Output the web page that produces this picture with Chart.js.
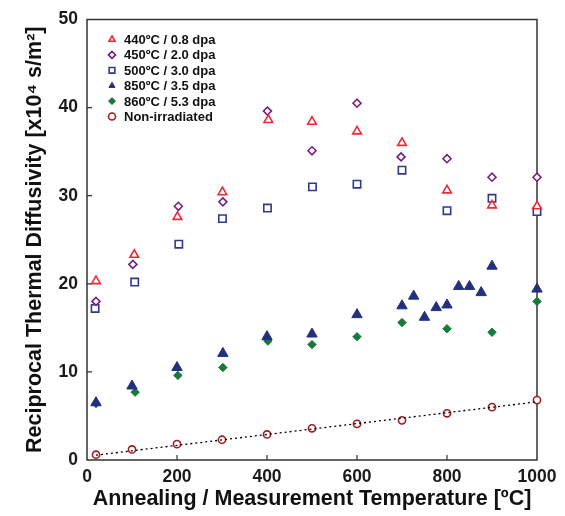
<!DOCTYPE html>
<html>
<head>
<meta charset="utf-8">
<script src="https://cdn.jsdelivr.net/npm/chart.js@4/dist/chart.umd.min.js"></script>
<style>
  html, body { margin: 0; padding: 0; background: #fff; }
  #wrap { width: 565px; height: 516px; }
</style>
</head>
<body>
<div id="wrap"><canvas id="chart" width="565" height="516"></canvas></div>
<script>
// values
const temps440 = [20, 105, 201, 301, 403, 500, 600, 700, 800, 900, 1000]
const vals440 = [20.3, 23.3, 27.6, 30.4, 38.6, 38.4, 37.3, 36.0, 30.6, 28.9, 28.8]

const temps450 = [20, 102, 203, 302, 401, 500, 600, 698, 800, 900, 1000]
const vals450 = [18.0, 22.2, 28.8, 29.3, 39.6, 35.1, 40.5, 34.4, 34.2, 32.1, 32.1]

const temps500 = [18, 106, 204, 301, 401, 501, 600, 700, 800, 900, 1000]
const vals500 = [17.2, 20.2, 24.5, 27.4, 28.6, 31.0, 31.3, 32.9, 28.3, 29.7, 28.2]

const temps850 = [20, 100, 200, 302, 400, 500, 600, 700, 726, 750, 776, 800, 826, 850, 876, 900, 1000]
const vals850 = [6.5, 8.4, 10.5, 12.1, 14.0, 14.3, 16.5, 17.5, 18.6, 16.2, 17.3, 17.6, 19.7, 19.7, 19.0, 22.0, 19.4]

const temps860 = [20, 107, 202, 302, 402, 500, 600, 700, 800, 900, 1000]
const vals860 = [6.4, 7.7, 9.6, 10.5, 13.5, 13.1, 14.0, 15.6, 14.9, 14.5, 18.0]

const tempsNon = [20, 100, 200, 300, 400, 500, 600, 700, 800, 900, 1000]
const valsNon = [0.6, 1.2, 1.8, 2.3, 2.9, 3.6, 4.1, 4.5, 5.3, 6.0, 6.8]

const fitTemps = [20, 1000]
const fitVals = [0.55, 6.6]

const seriesLabels = ["440ºC / 0.8 dpa", "450ºC / 2.0 dpa", "500ºC / 3.0 dpa", "850ºC / 3.5 dpa", "860ºC / 5.3 dpa", "Non-irradiated"]

const FONT = "'Liberation Sans', Arial, sans-serif"

function toPoints(xs, ys) {
  return xs.map((x, i) => ({ x: x, y: ys[i] }))
}

function markerSet(label, xs, ys, style, radius, color, filled) {
  return {
    label: label,
    data: toPoints(xs, ys),
    showLine: false,
    clip: false,
    pointStyle: style,
    pointRadius: radius,
    pointHoverRadius: radius,
    pointBorderColor: color,
    pointBackgroundColor: filled ? color : "#fff",
    pointBorderWidth: filled ? 1 : 1.6,
    borderColor: color,
    backgroundColor: filled ? color : "#fff"
  }
}

const datasets = [
  {
    label: "",
    data: toPoints(fitTemps, fitVals),
    showLine: true,
    borderColor: "#000",
    borderWidth: 1.3,
    borderDash: [2, 3],
    pointRadius: 0,
    fill: false,
    isFit: true
  },
  markerSet(seriesLabels[0], temps440, vals440, "triangle", 5, "#ec2a35", false),
  markerSet(seriesLabels[1], temps450, vals450, "rectRot", 4, "#7a1e7d", false),
  markerSet(seriesLabels[2], temps500, vals500, "rect", 5.2, "#2d3a8f", false),
  markerSet(seriesLabels[3], temps850, vals850, "triangle", 6, "#22307f", true),
  markerSet(seriesLabels[4], temps860, vals860, "rectRot", 4.2, "#177a39", true),
  markerSet(seriesLabels[5], tempsNon, valsNon, "circle", 3.6, "#a31b1f", false)
]

// frame round the plot and ticks pointing inward
const framePlugin = {
  id: "frame",
  beforeDatasetsDraw(chart) {
    const ctx = chart.ctx
    const a = chart.chartArea
    const xs = chart.scales.x
    const ys = chart.scales.y
    ctx.save()
    ctx.strokeStyle = "#333"
    ctx.lineWidth = 1.5
    ctx.strokeRect(a.left, a.top, a.right - a.left, a.bottom - a.top)
    ctx.lineWidth = 1.2
    ctx.beginPath()
    xs.ticks.forEach(t => {
      if (t.value <= 0 || t.value >= 1000) return
      const px = xs.getPixelForValue(t.value)
      ctx.moveTo(px, a.bottom)
      ctx.lineTo(px, a.bottom - 5)
    })
    ys.ticks.forEach(t => {
      if (t.value <= 0 || t.value >= 50) return
      const py = ys.getPixelForValue(t.value)
      ctx.moveTo(a.left, py)
      ctx.lineTo(a.left + 5, py)
    })
    ctx.stroke()
    ctx.restore()
  }
}

// legend drawn inside the plot, top left
const innerLegend = {
  id: "innerLegend",
  afterDraw(chart) {
    const ctx = chart.ctx
    const a = chart.chartArea
    let y = a.top + 20
    ctx.save()
    ctx.font = "bold 13px " + FONT
    ctx.textBaseline = "middle"
    ctx.textAlign = "left"
    chart.data.datasets.forEach(ds => {
      if (ds.isFit) return
      const opts = {
        pointStyle: ds.pointStyle,
        radius: ds.pointStyle == "rect" ? 4 : 3.5,
        borderWidth: ds.pointBorderWidth,
        rotation: 0
      }
      ctx.fillStyle = ds.pointBackgroundColor
      ctx.strokeStyle = ds.pointBorderColor
      ctx.lineWidth = ds.pointBorderWidth
      Chart.helpers.drawPoint(ctx, opts, a.left + 25, y)
      ctx.fillStyle = "#111"
      ctx.fillText(ds.label, a.left + 37, y + 1)
      y += 15.4
    })
    ctx.restore()
  }
}

new Chart(document.getElementById("chart"), {
  type: "scatter",
  data: { datasets: datasets },
  plugins: [framePlugin, innerLegend],
  options: {
    responsive: false,
    animation: false,
    layout: { padding: { top: 18, right: 28, left: 0, bottom: 0 } },
    plugins: {
      legend: { display: false },
      tooltip: { enabled: false }
    },
    scales: {
      x: {
        type: "linear",
        min: 0,
        max: 1000,
        afterFit: s => { s.height = 56 },
        grid: { display: false, drawTicks: false },
        border: { display: false },
        ticks: {
          stepSize: 200,
          padding: 7,
          color: "#1a1a1a",
          font: { family: FONT, size: 17.5, weight: "bold" },
          maxRotation: 0,
          callback: v => String(v)
        },
        title: {
          display: true,
          text: "Annealing / Measurement Temperature [ºC]",
          color: "#111",
          font: { family: FONT, size: 21.5, weight: "bold" },
          padding: { top: 0, bottom: 4 }
        }
      },
      y: {
        type: "linear",
        min: 0,
        max: 50,
        afterFit: s => { s.width = 87 },
        grid: { display: false, drawTicks: false },
        border: { display: false },
        ticks: {
          stepSize: 10,
          padding: 9,
          color: "#1a1a1a",
          font: { family: FONT, size: 17.5, weight: "bold" },
          callback: v => String(v)
        },
        title: {
          display: true,
          text: "Reciprocal Thermal Diffusivity [x10⁴ s/m²]",
          color: "#111",
          font: { family: FONT, size: 21.5, weight: "bold" },
          padding: { top: 22, bottom: 0 }
        }
      }
    }
  }
})
</script>
</body>
</html>
